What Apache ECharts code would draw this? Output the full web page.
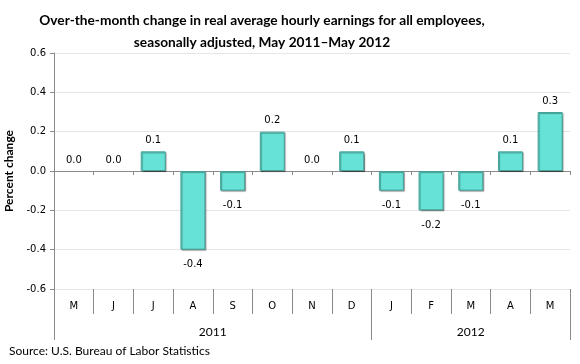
<!DOCTYPE html>
<html><head><meta charset="utf-8">
<script src="https://cdn.jsdelivr.net/npm/echarts@6/dist/echarts.min.js"></script>
<style>html,body{margin:0;padding:0;background:#fff}#c{width:580px;height:364px}</style>
</head><body><div id="c"></div>
<script>
const months = ['M','J','J','A','S','O','N','D','J','F','M','A','M'];
const values = [0.0, 0.0, 0.1, -0.4, -0.1, 0.2, 0.0, 0.1, -0.1, -0.2, -0.1, 0.1, 0.3];
const years = ['2011', '2012'];
const yearBounds = [0, 8, 13];
const yearCenters = [4, 10.5];
const yTicks = [-0.6, -0.4, -0.2, 0.0, 0.2, 0.4, 0.6];

const chart = echarts.init(document.getElementById('c'));
chart.setOption({
  animation: false,
  title: {
    text: 'Over-the-month change in real average hourly earnings for all employees,\nseasonally adjusted, May 2011\u2013May 2012',
    left: 257, top: 5, textAlign: 'center',
    textStyle: {fontFamily: 'Lato', fontWeight: 'bold', fontSize: 13.7, lineHeight: 22, color: '#000'}
  },
  graphic: [{
    type: 'text', left: 9, top: 345,
    style: {text: 'Source: U.S. Bureau of Labor Statistics', font: '12px Lato', fill: '#000'}
  }],
  grid: {left: 54, right: 10, top: 53, bottom: 75, outerBoundsMode: 'none', containLabel: false},
  xAxis: [{
    type: 'category', data: months,
    axisLine: {onZero: true, lineStyle: {color: '#8a8a8a'}},
    axisTick: {show: true, length: 4, lineStyle: {color: '#8a8a8a'}},
    axisLabel: {show: false}
  }, {
    type: 'category', data: months, position: 'bottom',
    axisLine: {show: false, onZero: false},
    axisTick: {show: true, length: 25, lineStyle: {color: '#8a8a8a'}},
    axisLabel: {margin: 12, fontFamily: 'DejaVu Sans', fontSize: 10, color: '#000'}
  }, {
    type: 'value', position: 'bottom', min: 0, max: 13,
    axisLine: {show: false, onZero: false},
    splitLine: {show: false},
    axisTick: {show: true, length: 51, customValues: yearBounds, lineStyle: {color: '#8a8a8a'}},
    axisLabel: {
      customValues: yearCenters, margin: 37, fontFamily: 'Lato', fontSize: 12, color: '#000',
      formatter: function (v) { return v === yearCenters[0] ? years[0] : years[1]; }
    }
  }],
  yAxis: {
    type: 'value', min: yTicks[0], max: yTicks[yTicks.length - 1], interval: 0.2,
    name: 'Percent change', nameLocation: 'middle', nameRotate: 90, nameGap: 33,
    nameTextStyle: {fontFamily: 'Lato', fontWeight: 'bold', fontSize: 12, color: '#000'},
    axisLine: {show: true, lineStyle: {color: '#8a8a8a'}},
    axisTick: {show: true, length: 4, lineStyle: {color: '#8a8a8a'}},
    axisLabel: {fontFamily: 'DejaVu Sans', fontSize: 10, color: '#000', margin: 8,
      formatter: function (v) { return v.toFixed(1); }},
    splitLine: {lineStyle: {color: '#e6e6e6'}}
  },
  series: [{
    type: 'bar', xAxisIndex: 0, barWidth: 25,
    data: values.map(function (v) {
      return {
        value: v,
        itemStyle: v === 0 ? {color: 'rgba(0,0,0,0)', borderWidth: 0, shadowColor: 'rgba(0,0,0,0)'} : undefined,
        label: {position: v < 0 ? 'bottom' : 'top', distance: v < 0 ? 10 : 6}
      };
    }),
    itemStyle: {color: '#66e3d6', borderColor: '#44a39a', borderWidth: 1,
      shadowColor: 'rgba(0,0,0,0.35)', shadowOffsetX: 1, shadowOffsetY: 1, shadowBlur: 1},
    label: {show: true, fontFamily: 'DejaVu Sans', fontSize: 10, color: '#000',
      formatter: function (p) { return p.value.toFixed(1); }}
  }]
});
</script></body></html>
